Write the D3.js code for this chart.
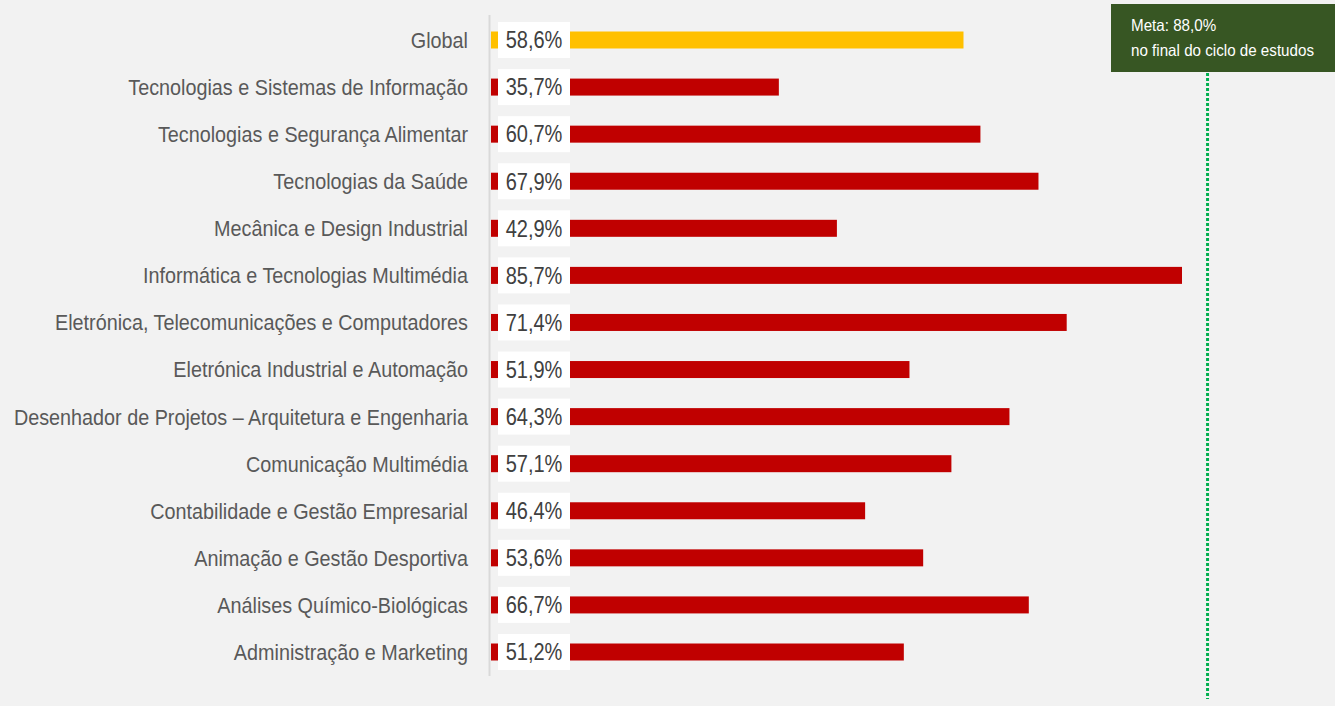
<!DOCTYPE html>
<html>
<head>
<meta charset="utf-8">
<script src="https://cdn.jsdelivr.net/npm/d3@7"></script>
<style>
  body { margin: 0; background: #f2f2f2; }
  svg { display: block; }
  .cat { font-family: "Liberation Sans", Arial, sans-serif; font-size: 22px; fill: #595959; }
  .val { font-family: "Liberation Sans", Arial, sans-serif; font-size: 23px; fill: #404040; }
  .meta { font-family: "Liberation Sans", Arial, sans-serif; font-size: 16.5px; fill: #ffffff; }
</style>
</head>
<body>
<div id="chart"></div>
<script>
var categories = [
  "Global",
  "Tecnologias e Sistemas de Informação",
  "Tecnologias e Segurança Alimentar",
  "Tecnologias da Saúde",
  "Mecânica e Design Industrial",
  "Informática e Tecnologias Multimédia",
  "Eletrónica, Telecomunicações e Computadores",
  "Eletrónica Industrial e Automação",
  "Desenhador de Projetos – Arquitetura e Engenharia",
  "Comunicação Multimédia",
  "Contabilidade e Gestão Empresarial",
  "Animação e Gestão Desportiva",
  "Análises Químico-Biológicas",
  "Administração e Marketing"
];
var values = [58.6, 35.7, 60.7, 67.9, 42.9, 85.7, 71.4, 51.9, 64.3, 57.1, 46.4, 53.6, 66.7, 51.2];
var metaValue = 88.0;
var metaLines = ["Meta: 88,0%", "no final do ciclo de estudos"];

var width = 1335, height = 706;
var fmt = function (v) { return d3.format(".1f")(v).replace(".", ",") + "%"; };

var x = d3.scaleLinear().domain([0, 85.7]).range([491, 1182]);
var y = d3.scalePoint().domain(categories).range([40, 652]);
var barH = 17;

var svg = d3.select("#chart").append("svg")
    .attr("width", width)
    .attr("height", height);

svg.append("rect").attr("width", width).attr("height", height).attr("fill", "#f2f2f2");

// meta dotted line
svg.append("line")
    .attr("x1", x(metaValue) + 7).attr("x2", x(metaValue) + 7)
    .attr("y1", 73).attr("y2", 699)
    .attr("stroke", "#00b050")
    .attr("stroke-width", 3)
    .attr("stroke-dasharray", "3,2");

// bars
svg.selectAll(".bar")
    .data(values)
    .enter().append("rect")
    .attr("class", "bar")
    .attr("x", x(0))
    .attr("y", function (d, i) { return y(categories[i]) - barH / 2; })
    .attr("width", function (d) { return x(d) - x(0); })
    .attr("height", barH)
    .attr("fill", function (d, i) { return i === 0 ? "#ffc000" : "#c00000"; });

// axis line
svg.append("line")
    .attr("x1", 489.5).attr("x2", 489.5)
    .attr("y1", 15).attr("y2", 676)
    .attr("stroke", "#d9d9d9")
    .attr("stroke-width", 2);

// value labels
var lab = svg.selectAll(".lab")
    .data(values)
    .enter().append("g")
    .attr("transform", function (d, i) { return "translate(534," + y(categories[i]) + ")"; });
lab.append("rect")
    .attr("x", -36).attr("y", -18)
    .attr("width", 72).attr("height", 36)
    .attr("fill", "#ffffff");
lab.append("text")
    .attr("class", "val")
    .attr("text-anchor", "middle")
    .attr("dy", "0.36em")
    .attr("transform", "scale(0.87,1)")
    .text(fmt);

// category labels (narrow look)
svg.selectAll(".cat")
    .data(categories)
    .enter().append("text")
    .attr("class", "cat")
    .attr("transform", function (d) { return "translate(468," + y(d) + ") scale(0.9,1)"; })
    .attr("dy", "0.36em")
    .attr("text-anchor", "end")
    .text(function (d) { return d; });

// meta box
svg.append("rect")
    .attr("x", 1111).attr("y", 4)
    .attr("width", 230).attr("height", 68)
    .attr("fill", "#375623");
svg.selectAll(".meta")
    .data(metaLines)
    .enter().append("text")
    .attr("class", "meta")
    .attr("transform", function (d, i) { return "translate(1131," + (31 + i * 25) + ") scale(0.92,1)"; })
    .text(function (d) { return d; });
</script>
</body>
</html>
